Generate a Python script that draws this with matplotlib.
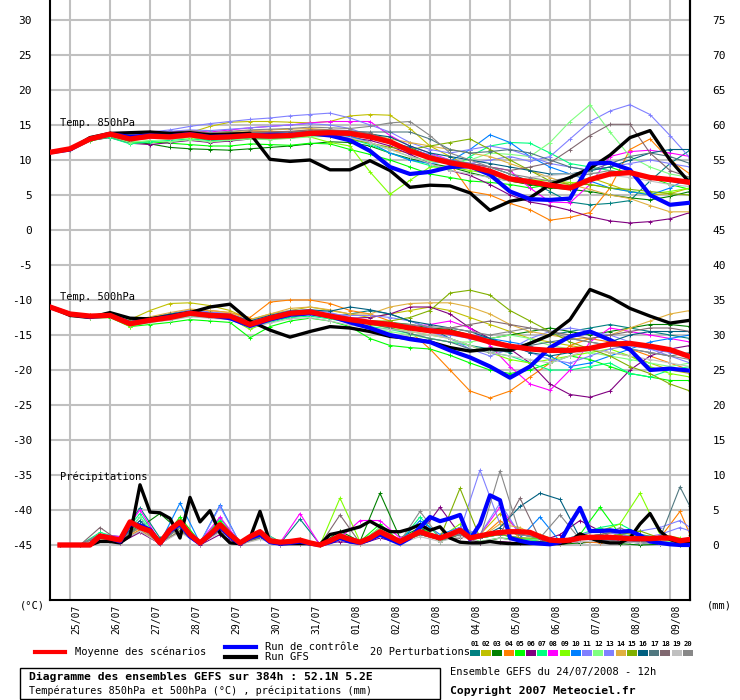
import matplotlib
matplotlib.use('Agg')
import matplotlib.pyplot as plt
from matplotlib.lines import Line2D
from matplotlib.patches import Rectangle
from matplotlib.transforms import ScaledTranslation
import numpy as np

plt.rcParams['font.family'] = ['DejaVu Sans Mono', 'DejaVu Sans']
plt.rcParams['axes.unicode_minus'] = False

# ---------------- data ----------------
T_HOURS = list(range(0, 385, 12))                 # temperature valid times (h)
P_MAIN_HOURS = list(range(6, 385, 6))             # precip, mean/control/GFS
P_PERT_HOURS = list(range(6, 379, 12)) + [384]    # precip, perturbations

DATE_HOURS = list(range(12, 373, 24))
DATE_LABELS = ['25/07', '26/07', '27/07', '28/07', '29/07', '30/07', '31/07', '01/08',
               '02/08', '03/08', '04/08', '05/08', '06/08', '07/08', '08/08', '09/08']
LEFT_TICKS = list(range(-45, 31, 5))
RIGHT_TICKS = list(range(0, 76, 5))
PRECIP_OFFSET = 45   # precip 0 mm sits on -45 of the temperature scale

PERT_COLORS = ['#008080', '#c0c000', '#008000', '#ff8000', '#00ff00', '#800080', '#00ff80',
               '#ff00ff', '#80ff00', '#0080ff', '#8080ff', '#80ff80', '#8080ff', '#e0b040',
               '#80b000', '#006080', '#507880', '#806870', '#c0c0c0', '#888888']

mean_850 = [11.1, 11.6, 13.0, 13.7, 13.0, 13.4, 13.3, 13.6, 13.2, 13.3, 13.5, 13.4, 13.5, 13.8, 13.9, 13.8,
            13.3, 12.6, 11.3, 10.3, 9.6, 9.1, 8.4, 7.3, 6.9, 6.4, 6.0, 7.2, 8.0, 8.2, 7.5, 7.2, 6.8]
ctrl_850 = [11.1, 11.5, 13.0, 13.7, 13.3, 13.5, 13.4, 13.7, 13.3, 13.4, 13.5, 13.6, 13.6, 13.8, 13.5, 12.8,
            11.3, 9.0, 8.0, 8.3, 9.0, 9.1, 7.9, 5.5, 4.4, 4.3, 4.5, 9.5, 9.6, 8.6, 5.0, 3.6, 3.9]
gfs_850 = [11.1, 11.5, 13.2, 13.8, 13.9, 14.0, 13.8, 13.9, 13.6, 13.7, 13.8, 10.1, 9.8, 10.0, 8.6, 8.6,
           9.9, 8.5, 6.1, 6.4, 6.3, 5.3, 2.8, 4.1, 4.6, 6.5, 7.5, 8.8, 10.7, 13.2, 14.2, 10.0, 6.7]

p850_01 = [11.1, 11.6, 13.0, 13.6, 13.0, 13.2, 13.0, 13.3, 12.8, 13.0, 13.4, 13.2, 13.1, 13.5, 13.6, 13.4, 13.2, 12.6, 11.8, 10.6, 9.8, 9.5, 9.0, 8.0, 7.0, 5.5, 4.0, 3.6, 3.8, 4.2, 7.0, 9.5, 11.4]
p850_02 = [11.1, 11.5, 13.1, 13.8, 13.4, 13.8, 13.7, 13.9, 14.8, 15.4, 15.5, 15.5, 15.4, 15.3, 15.5, 16.3, 16.5, 16.4, 14.5, 12.0, 10.5, 9.0, 8.0, 7.0, 6.5, 6.0, 6.5, 7.5, 6.5, 5.5, 5.0, 5.2, 6.0]
p850_03 = [11.1, 11.5, 12.8, 13.4, 12.6, 12.3, 11.8, 11.6, 11.5, 11.4, 11.6, 11.8, 12.0, 12.3, 12.6, 12.5, 12.0, 11.0, 10.2, 9.5, 9.0, 8.2, 7.5, 7.0, 6.5, 6.0, 5.8, 5.5, 5.0, 4.6, 4.3, 4.8, 5.5]
p850_04 = [11.1, 11.6, 13.1, 13.9, 13.4, 13.6, 13.8, 13.9, 13.7, 13.9, 14.0, 14.1, 14.0, 14.3, 14.0, 13.5, 12.5, 11.5, 11.0, 10.8, 9.5, 5.5, 5.0, 3.8, 2.9, 1.4, 1.8, 2.5, 6.0, 11.5, 13.0, 10.0, 8.0]
p850_05 = [11.1, 11.4, 12.7, 13.3, 12.5, 12.6, 12.4, 12.2, 12.0, 12.0, 12.3, 12.2, 12.1, 12.4, 12.3, 11.5, 10.8, 10.0, 9.0, 8.0, 7.5, 7.0, 6.8, 6.5, 6.0, 6.5, 7.5, 8.5, 9.0, 8.0, 7.5, 6.5, 5.8]
p850_06 = [11.1, 11.5, 12.8, 13.2, 12.4, 12.2, 12.5, 12.8, 12.5, 12.7, 13.0, 13.2, 13.4, 13.6, 13.4, 13.2, 12.8, 12.0, 10.8, 9.5, 8.5, 7.8, 6.5, 5.0, 4.0, 3.5, 2.8, 1.9, 1.3, 1.0, 1.2, 1.6, 2.5]
p850_07 = [11.1, 11.6, 12.9, 13.2, 12.3, 12.6, 12.8, 13.0, 12.8, 12.9, 13.1, 13.0, 13.2, 13.4, 13.6, 13.0, 12.2, 11.0, 10.0, 9.2, 8.6, 10.5, 12.0, 12.5, 12.4, 11.0, 9.5, 9.0, 8.5, 8.0, 7.5, 7.2, 7.0]
p850_08 = [11.1, 11.6, 13.0, 13.8, 13.3, 13.8, 14.0, 14.2, 14.0, 14.3, 14.6, 14.8, 15.0, 15.3, 15.5, 15.5, 15.5, 13.5, 12.0, 11.0, 10.0, 9.5, 9.0, 8.5, 6.0, 4.0, 3.9, 6.5, 10.5, 11.2, 11.4, 11.0, 10.5]
p850_09 = [11.1, 11.5, 12.9, 13.5, 12.8, 13.1, 13.0, 13.2, 13.0, 13.2, 13.4, 13.5, 13.6, 13.3, 12.5, 12.0, 8.3, 5.1, 7.1, 9.0, 9.0, 8.5, 8.0, 7.5, 7.2, 7.0, 6.8, 6.5, 6.0, 5.5, 5.2, 5.5, 6.0]
p850_10 = [11.1, 11.6, 13.0, 13.7, 13.1, 13.5, 13.4, 13.7, 13.4, 13.5, 13.7, 13.6, 13.6, 13.8, 13.8, 13.4, 12.5, 11.0, 10.0, 9.5, 9.8, 11.5, 13.6, 12.5, 10.5, 9.0, 8.0, 7.0, 6.0, 5.5, 5.0, 6.0, 7.5]
p850_11 = [11.1, 11.6, 13.1, 13.8, 13.4, 13.8, 14.1, 14.3, 14.2, 14.4, 14.6, 14.8, 15.0, 15.2, 15.0, 14.5, 13.5, 12.5, 11.5, 10.8, 10.0, 9.5, 10.0, 10.5, 9.8, 10.5, 13.0, 15.5, 17.0, 17.9, 16.5, 13.5, 10.3]
p850_12 = [11.1, 11.5, 12.8, 13.4, 12.5, 12.8, 12.6, 12.9, 12.6, 12.8, 13.0, 12.9, 13.1, 13.3, 13.4, 13.0, 12.4, 11.5, 10.5, 9.8, 9.5, 10.0, 11.0, 10.8, 10.5, 12.5, 15.5, 17.9, 14.0, 10.5, 9.0, 8.0, 7.5]
p850_13 = [11.1, 11.6, 13.1, 13.9, 13.6, 14.0, 14.3, 14.8, 15.2, 15.5, 15.8, 16.0, 16.3, 16.5, 16.7, 16.0, 15.0, 14.0, 12.5, 11.5, 11.0, 11.5, 12.0, 11.5, 10.5, 9.5, 9.0, 8.5, 9.0, 9.5, 10.0, 9.5, 9.0]
p850_14 = [11.1, 11.6, 13.1, 13.7, 13.3, 13.6, 13.8, 14.0, 13.8, 14.0, 14.2, 14.3, 14.4, 14.5, 14.3, 14.0, 13.8, 13.0, 12.5, 12.0, 11.5, 11.0, 10.5, 9.5, 8.5, 7.5, 6.5, 5.8, 5.0, 4.5, 3.5, 2.6, 2.6]
p850_15 = [11.1, 11.5, 12.9, 13.5, 12.9, 13.2, 13.2, 13.4, 13.1, 13.2, 13.3, 13.2, 13.3, 13.6, 13.5, 13.0, 12.4, 11.8, 11.5, 12.0, 12.5, 13.0, 11.5, 10.0, 8.5, 7.0, 6.5, 6.5, 6.0, 5.8, 5.5, 5.2, 5.0]
p850_16 = [11.1, 11.5, 12.9, 13.6, 13.2, 13.4, 13.3, 13.5, 13.2, 13.4, 13.6, 13.5, 13.7, 13.9, 14.0, 13.8, 13.7, 13.3, 12.0, 11.0, 10.5, 10.0, 9.5, 9.0, 8.5, 8.0, 8.0, 8.5, 9.0, 10.0, 11.0, 11.5, 11.5]
p850_17 = [11.1, 11.6, 13.0, 13.7, 13.2, 13.6, 13.5, 13.8, 13.5, 13.7, 13.9, 13.9, 14.0, 14.1, 14.2, 14.1, 14.0, 14.0, 14.0, 13.0, 11.5, 11.0, 11.2, 11.5, 11.0, 10.0, 9.0, 8.5, 9.5, 10.5, 11.0, 10.5, 9.5]
p850_18 = [11.1, 11.6, 13.0, 13.8, 13.3, 13.7, 13.6, 13.9, 13.6, 13.8, 14.0, 14.0, 14.1, 14.3, 14.3, 14.2, 13.8, 12.8, 11.5, 10.5, 10.0, 9.5, 9.0, 8.5, 9.0, 9.6, 11.5, 13.5, 15.1, 15.1, 11.0, 8.5, 7.5]
p850_19 = [11.1, 11.5, 12.9, 13.5, 12.8, 13.1, 13.0, 13.3, 13.0, 13.1, 13.3, 13.2, 13.3, 13.6, 13.6, 13.2, 12.5, 11.5, 10.5, 9.5, 8.5, 8.0, 7.5, 7.0, 7.5, 7.8, 8.0, 8.2, 7.8, 7.5, 7.0, 6.5, 6.2]
p850_20 = [11.1, 11.6, 13.1, 13.9, 13.6, 14.0, 13.9, 14.2, 13.9, 14.1, 14.3, 14.4, 14.5, 14.7, 14.6, 14.5, 14.8, 15.3, 15.5, 13.5, 11.0, 10.0, 9.0, 8.0, 7.5, 7.0, 7.5, 8.0, 8.5, 8.0, 7.5, 7.0, 6.5]

mean_500 = [-11.0, -12.0, -12.3, -12.2, -13.4, -12.9, -12.5, -11.9, -12.2, -12.3, -13.5, -12.6, -11.9, -11.7, -12.3, -12.8,
            -13.2, -13.5, -14.0, -14.4, -14.6, -15.2, -16.0, -16.6, -17.0, -17.2, -17.2, -16.9, -16.3, -16.2, -16.6, -17.1, -18.1]
ctrl_500 = [-11.0, -12.0, -12.4, -12.2, -13.3, -12.9, -12.4, -11.9, -12.2, -12.6, -13.7, -12.8, -12.1, -11.9, -12.3, -13.2,
            -14.0, -15.0, -15.6, -16.0, -17.2, -18.2, -19.5, -21.1, -19.5, -16.8, -15.2, -14.5, -15.7, -17.1, -20.0, -19.8, -20.1]
gfs_500 = [-11.0, -12.2, -12.5, -11.8, -12.6, -12.7, -12.3, -11.8, -11.0, -10.6, -13.0, -14.3, -15.3, -14.5, -13.8, -14.0,
           -14.5, -15.2, -15.5, -16.0, -16.8, -17.3, -17.0, -17.2, -16.2, -15.0, -12.8, -8.5, -9.6, -11.2, -12.3, -13.3, -12.9]

p500_01 = [-11.0, -12.0, -12.3, -12.0, -13.0, -12.5, -12.0, -11.5, -11.8, -12.0, -13.0, -12.8, -12.5, -12.0, -12.5, -12.0, -11.5, -12.0, -13.0, -14.0, -15.5, -16.5, -17.0, -17.5, -16.0, -15.0, -14.5, -14.0, -13.5, -14.0, -14.5, -15.0, -15.5]
p500_02 = [-11.0, -12.0, -12.2, -11.8, -12.8, -11.5, -10.5, -10.4, -10.8, -11.5, -12.8, -12.0, -11.5, -11.0, -11.5, -12.0, -12.5, -12.0, -11.5, -11.0, -11.5, -12.5, -13.5, -14.5, -15.5, -16.0, -16.5, -17.0, -17.5, -18.0, -19.0, -20.0, -20.5]
p500_03 = [-11.0, -12.1, -12.5, -12.4, -13.6, -13.0, -12.8, -12.2, -12.5, -12.7, -13.8, -13.0, -12.3, -12.0, -12.4, -12.8, -13.0, -13.2, -13.5, -14.0, -14.2, -15.0, -15.5, -15.0, -14.5, -14.0, -14.5, -15.0, -14.5, -14.0, -13.5, -13.5, -13.8]
p500_04 = [-11.0, -12.0, -12.2, -12.0, -13.2, -12.6, -12.0, -11.5, -11.5, -11.8, -12.5, -10.3, -10.0, -10.0, -10.5, -11.5, -12.0, -13.0, -14.5, -17.0, -20.0, -23.0, -24.0, -23.0, -21.0, -19.0, -16.5, -15.5, -16.0, -17.0, -18.0, -19.0, -20.0]
p500_05 = [-11.0, -12.1, -12.6, -12.5, -13.8, -13.5, -13.2, -12.8, -13.0, -13.2, -15.4, -13.8, -13.0, -12.6, -13.0, -13.8, -15.5, -16.5, -16.8, -17.0, -17.9, -19.0, -20.0, -20.5, -20.0, -19.0, -18.0, -18.5, -19.5, -20.5, -21.0, -21.5, -21.5]
p500_06 = [-11.0, -12.0, -12.4, -12.3, -13.6, -13.0, -12.6, -12.0, -12.4, -12.6, -13.5, -12.8, -12.2, -12.0, -12.3, -12.6, -12.5, -12.0, -11.0, -11.0, -12.0, -14.0, -15.5, -17.0, -19.0, -22.0, -23.5, -23.9, -23.0, -20.0, -18.0, -17.0, -16.5]
p500_07 = [-11.0, -12.1, -12.5, -12.4, -13.7, -13.2, -12.8, -12.3, -12.5, -12.7, -14.0, -13.2, -12.5, -12.3, -12.7, -13.2, -13.8, -14.2, -14.8, -15.5, -16.0, -16.5, -17.5, -18.0, -19.0, -20.0, -20.0, -19.5, -19.0, -20.5, -21.0, -20.0, -19.5]
p500_08 = [-11.0, -12.0, -12.3, -12.1, -13.3, -12.7, -12.2, -11.8, -12.0, -12.2, -13.2, -12.5, -11.8, -11.6, -12.0, -12.5, -13.0, -13.5, -13.8, -13.5, -13.0, -14.0, -16.5, -19.5, -22.0, -22.9, -20.0, -16.0, -14.0, -14.5, -15.0, -15.5, -16.0]
p500_09 = [-11.0, -12.1, -12.5, -12.4, -13.8, -13.0, -12.7, -12.1, -12.4, -12.6, -14.2, -13.0, -12.2, -12.0, -12.5, -13.0, -13.5, -14.0, -14.5, -15.0, -15.5, -16.5, -17.5, -18.5, -19.0, -18.5, -18.0, -17.5, -17.0, -18.0, -19.5, -20.5, -21.0]
p500_10 = [-11.0, -12.0, -12.3, -12.2, -13.3, -12.8, -12.4, -11.9, -12.1, -12.3, -13.4, -12.6, -11.9, -11.7, -12.2, -12.8, -13.2, -13.6, -14.0, -14.0, -14.5, -15.0, -15.5, -16.0, -16.5, -18.0, -19.5, -19.0, -18.0, -17.0, -16.0, -15.5, -15.0]
p500_11 = [-11.0, -12.0, -12.3, -12.2, -13.4, -12.8, -12.2, -11.6, -11.8, -12.0, -13.0, -12.2, -11.5, -11.4, -11.8, -12.5, -13.0, -13.5, -14.0, -14.5, -15.5, -17.0, -18.0, -17.0, -15.5, -14.5, -14.0, -14.5, -15.0, -16.0, -17.0, -17.5, -18.0]
p500_12 = [-11.0, -12.1, -12.4, -12.3, -13.5, -13.1, -12.7, -12.2, -12.4, -12.6, -13.8, -13.0, -12.3, -12.0, -12.6, -13.2, -14.0, -14.5, -15.0, -15.5, -16.0, -16.0, -15.5, -15.0, -15.5, -16.5, -17.0, -17.5, -18.0, -18.5, -19.0, -19.5, -19.0]
p500_13 = [-11.0, -12.0, -12.3, -12.2, -13.3, -12.6, -12.0, -11.4, -11.7, -12.0, -13.0, -12.4, -11.8, -11.6, -12.0, -12.2, -12.2, -12.5, -13.0, -14.0, -15.0, -15.5, -16.0, -16.5, -17.5, -18.5, -19.0, -18.0, -17.0, -16.5, -17.0, -18.0, -19.0]
p500_14 = [-11.0, -12.0, -12.2, -12.0, -13.1, -12.4, -11.8, -11.3, -11.5, -11.8, -12.8, -12.0, -11.2, -11.0, -11.4, -12.0, -12.0, -11.0, -10.5, -10.4, -10.4, -11.0, -12.0, -13.5, -14.5, -15.0, -15.5, -15.5, -15.0, -14.0, -13.0, -12.0, -11.5]
p500_15 = [-11.0, -12.1, -12.4, -12.2, -13.4, -12.9, -12.5, -12.0, -12.3, -12.5, -13.6, -12.8, -12.0, -11.8, -12.3, -12.8, -13.0, -13.0, -12.5, -11.5, -9.0, -8.6, -9.3, -11.5, -13.0, -14.5, -16.0, -17.0, -18.0, -19.5, -20.5, -22.0, -23.0]
p500_16 = [-11.0, -12.0, -12.3, -12.1, -13.2, -12.6, -12.0, -11.6, -11.9, -12.1, -13.0, -12.2, -11.6, -11.4, -11.6, -11.0, -11.4, -12.0, -13.0, -13.5, -14.0, -14.5, -15.5, -16.5, -17.5, -18.0, -17.5, -17.0, -16.0, -15.0, -14.5, -14.5, -14.5]
p500_17 = [-11.0, -12.1, -12.4, -12.3, -13.5, -13.0, -12.6, -12.1, -12.4, -12.6, -13.7, -12.9, -12.1, -11.9, -12.4, -12.9, -13.4, -14.0, -14.8, -15.5, -16.0, -17.0, -17.5, -17.0, -16.5, -16.0, -15.5, -16.0, -16.5, -17.0, -17.5, -18.0, -17.5]
p500_18 = [-11.0, -12.0, -12.3, -12.2, -13.4, -12.8, -12.2, -11.7, -11.9, -12.1, -13.1, -12.4, -11.8, -11.6, -12.1, -12.6, -13.2, -13.8, -14.2, -14.5, -14.0, -13.5, -13.0, -13.5, -14.0, -14.5, -15.0, -15.5, -15.0, -14.5, -14.0, -14.0, -14.5]
p500_19 = [-11.0, -12.1, -12.5, -12.4, -13.6, -13.2, -12.9, -12.4, -12.6, -12.8, -13.9, -13.3, -12.7, -12.5, -13.0, -13.6, -14.0, -14.2, -14.5, -15.0, -15.5, -16.5, -17.5, -18.0, -18.5, -19.0, -18.0, -17.0, -17.5, -18.0, -18.5, -19.0, -19.5]
p500_20 = [-11.0, -12.0, -12.3, -12.2, -13.3, -12.7, -12.3, -11.8, -12.0, -12.2, -13.2, -12.5, -11.9, -11.7, -12.1, -12.6, -13.0, -13.3, -13.5, -13.8, -14.0, -14.5, -15.0, -14.5, -14.0, -14.5, -15.5, -16.0, -16.5, -17.0, -17.5, -18.0, -18.5]

mean_rr = [0, 0, 0, 0, 1.3, 1.0, 0.7, 3.3, 2.5, 2.0, 0.3, 2.2, 3.3, 1.5, 0.3, 1.5, 2.9, 1.5, 0.3, 1.2,
           1.9, 0.6, 0.4, 0.5, 0.7, 0.3, 0.0, 0.6, 1.3, 0.8, 0.4, 1.0, 1.9, 1.2, 0.5, 1.2, 1.9, 1.4, 1.0, 1.5,
           2.1, 1.0, 1.3, 1.6, 1.8, 1.9, 1.9, 1.8, 1.2, 0.7, 0.6, 0.7, 1.0, 1.1, 1.1, 1.1, 1.0, 0.9, 0.9, 0.9,
           1.0, 1.0, 0.6, 0.8]
ctrl_rr = [0, 0, 0, 0, 1.2, 1.0, 0.5, 3.0, 2.8, 2.2, 0.2, 2.0, 3.0, 1.2, 0.2, 1.4, 2.6, 1.2, 0.2, 1.0,
           1.5, 0.4, 0.2, 0.3, 0.5, 0.2, 0.0, 0.4, 1.0, 0.5, 0.3, 0.8, 1.5, 0.8, 0.2, 1.0, 2.5, 4.0, 3.4, 3.8,
           4.3, 0.8, 3.0, 7.1, 6.4, 1.0, 0.6, 0.3, 0.2, 0.1, 0.4, 3.0, 5.3, 2.0, 2.0, 2.1, 1.9, 2.0, 1.4, 0.5,
           0.3, 0.1, 0.0, 0.0]
gfs_rr = [0, 0, 0, 0, 0.5, 0.5, 0.3, 1.3, 8.6, 4.7, 4.6, 3.8, 1.0, 6.8, 3.3, 4.9, 1.7, 0.3, 0.2, 1.0,
          4.8, 0.4, 0.2, 0.2, 0.2, 0.2, 0.1, 1.5, 1.8, 2.2, 2.6, 3.4, 2.6, 1.9, 1.9, 2.3, 2.9, 2.1, 2.6, 1.0,
          0.4, 0.3, 0.3, 0.5, 0.3, 0.2, 0.2, 0.2, 0.3, 0.2, 0.2, 0.5, 1.6, 1.0, 0.5, 0.3, 0.3, 1.0, 3.0, 4.5,
          2.0, 0.8, 0.3, 0.2]

prr_01 = [0, 0, 1.5, 1.2, 5.3, 1.0, 2.5, 0.3, 3.0, 0.2, 1.5, 0.2, 3.7, 0.1, 1.0, 0.3, 2.0, 0.5, 1.5, 0.8, 2.5, 1.0, 1.5, 1.0, 0.8, 0.5, 0.3, 0.5, 1.0, 0.3, 0.5, 0.2, 0.1]
prr_02 = [0, 0, 1.0, 0.5, 2.0, 0.2, 3.0, 0.2, 2.5, 0.2, 1.0, 0.3, 0.5, 0.0, 1.0, 0.2, 2.5, 0.3, 1.5, 1.0, 2.0, 1.5, 4.5, 2.0, 1.5, 0.5, 1.0, 2.5, 1.2, 1.0, 0.5, 0.8, 1.0]
prr_03 = [0, 0, 1.2, 0.8, 2.5, 4.5, 2.0, 0.5, 3.0, 0.3, 2.0, 0.1, 0.5, 0.0, 2.0, 0.5, 7.4, 1.0, 2.5, 0.5, 1.5, 0.3, 1.0, 0.6, 0.5, 0.1, 0.3, 0.5, 0.2, 0.0, 0.1, 0.0, 0.0]
prr_04 = [0, 0, 1.0, 0.5, 2.2, 0.2, 2.8, 0.1, 2.2, 0.1, 1.5, 0.2, 0.3, 0.0, 0.8, 0.2, 1.5, 0.2, 1.5, 0.8, 1.5, 1.0, 3.5, 1.0, 0.5, 0.2, 0.5, 0.3, 0.5, 0.8, 1.0, 4.8, 1.5]
prr_05 = [0, 0, 1.5, 1.0, 3.0, 0.3, 4.0, 0.4, 3.5, 0.2, 2.0, 0.5, 0.8, 0.1, 1.5, 0.5, 3.0, 0.5, 2.5, 1.0, 1.5, 0.5, 1.0, 0.8, 1.0, 0.5, 1.5, 5.4, 1.5, 1.2, 1.0, 0.5, 0.3]
prr_06 = [0, 0, 0.8, 0.3, 1.8, 0.2, 2.0, 0.0, 1.5, 0.0, 1.2, 0.0, 0.2, 0.0, 0.5, 0.1, 1.0, 0.3, 1.5, 5.4, 1.5, 0.3, 0.5, 0.3, 0.5, 1.5, 3.5, 2.0, 0.5, 0.3, 0.2, 0.2, 0.3]
prr_07 = [0, 0, 1.8, 1.0, 4.5, 0.5, 3.5, 0.3, 3.8, 0.3, 2.0, 0.3, 0.5, 0.0, 1.5, 0.3, 2.5, 0.5, 4.0, 1.0, 2.5, 1.0, 1.5, 1.0, 0.5, 0.3, 1.5, 2.5, 3.0, 1.5, 1.0, 0.5, 0.5]
prr_08 = [0, 0, 1.5, 1.2, 5.0, 0.5, 3.0, 0.5, 4.0, 0.3, 1.5, 0.3, 4.5, 0.0, 1.0, 3.5, 3.5, 1.0, 2.0, 1.0, 2.0, 1.5, 5.4, 1.5, 1.0, 0.3, 0.5, 0.5, 0.8, 0.5, 0.5, 0.3, 0.2]
prr_09 = [0, 0, 1.0, 0.5, 3.0, 0.3, 2.0, 0.3, 2.5, 0.1, 1.0, 0.2, 0.5, 0.0, 6.7, 0.5, 1.5, 0.5, 2.0, 1.0, 3.0, 1.0, 2.0, 1.5, 1.0, 0.5, 1.5, 2.0, 3.0, 7.4, 1.5, 1.0, 0.5]
prr_10 = [0, 0, 1.2, 0.8, 4.0, 0.3, 6.0, 0.3, 5.7, 0.2, 1.5, 0.3, 0.6, 0.0, 1.0, 0.3, 2.0, 0.5, 3.5, 1.5, 2.5, 1.0, 1.5, 1.0, 4.0, 0.5, 1.0, 1.5, 0.8, 0.5, 0.3, 0.3, 0.2]
prr_11 = [0, 0, 1.3, 0.8, 3.5, 0.5, 3.0, 0.3, 5.5, 0.2, 2.0, 0.4, 0.5, 0.0, 1.5, 0.5, 2.0, 0.5, 2.0, 1.0, 2.0, 10.7, 3.0, 1.5, 1.0, 0.5, 1.5, 2.0, 1.5, 1.0, 1.5, 2.5, 2.0]
prr_12 = [0, 0, 1.0, 0.6, 4.0, 0.5, 3.0, 0.4, 3.0, 0.2, 1.8, 0.3, 0.5, 0.0, 1.5, 0.3, 2.5, 0.3, 1.5, 0.8, 2.0, 1.0, 1.5, 1.0, 0.8, 0.5, 1.0, 1.5, 1.0, 0.8, 0.6, 0.4, 0.3]
prr_13 = [0, 0, 1.1, 0.7, 3.0, 0.4, 2.5, 0.3, 3.0, 0.2, 1.5, 0.3, 0.5, 0.0, 1.2, 0.5, 2.0, 0.8, 1.8, 1.2, 2.5, 1.5, 6.0, 1.5, 1.0, 0.5, 1.5, 2.0, 1.5, 2.0, 2.5, 3.5, 2.5]
prr_14 = [0, 0, 0.8, 0.5, 2.5, 0.2, 2.0, 0.2, 2.0, 0.1, 1.0, 0.2, 0.3, 0.0, 0.8, 0.2, 1.5, 0.3, 1.5, 0.8, 1.5, 1.0, 3.0, 2.5, 1.0, 0.5, 1.0, 1.5, 2.0, 1.0, 0.8, 0.5, 0.4]
prr_15 = [0, 0, 1.0, 0.5, 3.0, 0.3, 3.5, 0.2, 2.5, 0.2, 1.5, 0.3, 0.5, 0.0, 1.0, 0.3, 2.0, 0.4, 1.5, 1.0, 8.1, 1.0, 1.5, 1.0, 1.0, 0.3, 0.8, 1.0, 1.5, 2.0, 1.0, 0.5, 0.3]
prr_16 = [0, 0, 1.2, 0.7, 3.5, 0.4, 2.5, 0.3, 2.5, 0.2, 1.5, 0.3, 0.5, 0.0, 1.0, 0.3, 1.5, 0.4, 2.0, 1.0, 1.5, 1.0, 2.5, 5.5, 7.4, 6.5, 1.0, 0.8, 0.5, 0.3, 0.2, 0.1, 0.1]
prr_17 = [0, 0, 1.5, 0.8, 2.8, 0.4, 2.5, 0.3, 2.5, 0.2, 1.0, 0.2, 0.4, 0.0, 1.0, 0.3, 1.5, 0.5, 1.5, 0.8, 1.5, 1.0, 2.0, 1.5, 1.0, 0.5, 1.0, 1.5, 2.0, 1.5, 1.0, 8.3, 5.5]
prr_18 = [0, 0, 2.5, 0.5, 2.0, 0.2, 2.0, 0.2, 2.0, 0.1, 1.2, 0.2, 0.4, 0.0, 4.3, 0.3, 1.5, 0.3, 1.5, 0.8, 1.0, 1.5, 1.5, 6.7, 0.8, 0.3, 0.5, 0.5, 0.8, 0.5, 0.3, 0.2, 0.1]
prr_19 = [0, 0, 1.0, 0.5, 2.0, 0.2, 1.8, 0.1, 1.8, 0.1, 0.8, 0.1, 0.3, 0.0, 0.8, 0.2, 1.2, 0.2, 1.2, 0.5, 1.2, 0.5, 1.0, 0.5, 0.5, 0.2, 0.5, 0.5, 0.5, 0.3, 0.2, 0.1, 0.1]
prr_20 = [0, 0, 1.5, 0.8, 2.5, 0.3, 2.5, 0.3, 2.5, 0.2, 1.5, 0.3, 0.5, 0.0, 1.5, 0.3, 2.0, 0.5, 4.8, 1.0, 1.5, 1.0, 10.6, 1.5, 1.0, 4.3, 0.8, 1.0, 2.5, 1.0, 0.8, 0.5, 0.3]

PERT_850 = [p850_01, p850_02, p850_03, p850_04, p850_05, p850_06, p850_07, p850_08, p850_09, p850_10,
            p850_11, p850_12, p850_13, p850_14, p850_15, p850_16, p850_17, p850_18, p850_19, p850_20]
PERT_500 = [p500_01, p500_02, p500_03, p500_04, p500_05, p500_06, p500_07, p500_08, p500_09, p500_10,
            p500_11, p500_12, p500_13, p500_14, p500_15, p500_16, p500_17, p500_18, p500_19, p500_20]
PERT_RR = [prr_01, prr_02, prr_03, prr_04, prr_05, prr_06, prr_07, prr_08, prr_09, prr_10,
           prr_11, prr_12, prr_13, prr_14, prr_15, prr_16, prr_17, prr_18, prr_19, prr_20]

# ---------------- figure ----------------
W, H = 740, 700
fig = plt.figure(figsize=(W / 100, H / 100), dpi=100)
fig.patch.set_facecolor('white')


def fx(x):
    return x / W


def fy(y):
    return 1 - y / H


ax = fig.add_axes([fx(50), fy(600), 640 / W, 600 / H])
ax.set_xlim(0, 384)
ax.set_ylim(30 - 580 / 7, 30 + 20 / 7)

GRID = '#c0c0c0'
for h in DATE_HOURS:
    ax.axvline(h, color=GRID, lw=1.5, zorder=0)
for v in LEFT_TICKS:
    ax.axhline(v, color=GRID, lw=1.5, zorder=0)

pkw = dict(lw=0.8, marker='+', ms=3.2, mew=0.7, zorder=2)
for c, s850, s500, srr in zip(PERT_COLORS, PERT_850, PERT_500, PERT_RR):
    ax.plot(T_HOURS, s850, color=c, **pkw)
    ax.plot(T_HOURS, s500, color=c, **pkw)
    ax.plot(P_PERT_HOURS, np.array(srr) - PRECIP_OFFSET, color=c, **pkw)

for hrs, vals in [(T_HOURS, gfs_850), (T_HOURS, gfs_500), (P_MAIN_HOURS, np.array(gfs_rr) - PRECIP_OFFSET)]:
    ax.plot(hrs, vals, color='black', lw=2.4, zorder=3, solid_joinstyle='round')
for hrs, vals in [(T_HOURS, ctrl_850), (T_HOURS, ctrl_500), (P_MAIN_HOURS, np.array(ctrl_rr) - PRECIP_OFFSET)]:
    ax.plot(hrs, vals, color='#0000ff', lw=3.0, zorder=4, solid_joinstyle='round')
for hrs, vals in [(T_HOURS, mean_850), (T_HOURS, mean_500), (P_MAIN_HOURS, np.array(mean_rr) - PRECIP_OFFSET)]:
    ax.plot(hrs, vals, color='#ff0000', lw=3.8, zorder=5, solid_joinstyle='round')

for side in ['left', 'right', 'bottom']:
    ax.spines[side].set_linewidth(1.5)
    ax.spines[side].set_color('black')
ax.spines['top'].set_visible(False)

ax.set_yticks(LEFT_TICKS)
ax.tick_params(axis='y', length=0, pad=13, labelsize=8)
ax.set_xticks(DATE_HOURS)
ax.set_xticklabels(DATE_LABELS, rotation=90, va='top', ha='center')
ax.tick_params(axis='x', length=0, pad=3, labelsize=7)
for lbl in ax.get_xticklabels():
    lbl.set_transform(lbl.get_transform() + ScaledTranslation(6 / 100, 0, fig.dpi_scale_trans))

sec = ax.secondary_yaxis('right', functions=(lambda v: v + PRECIP_OFFSET, lambda v: v - PRECIP_OFFSET))
sec.set_yticks(RIGHT_TICKS)
sec.tick_params(length=0, pad=16, labelsize=8)
sec.spines['right'].set_linewidth(1.5)

# panel titles
tkw = dict(fontsize=7.5, ha='left', va='center', color='black')
fig.text(fx(60), fy(123), 'Temp. 850hPa', **tkw)
fig.text(fx(60), fy(297), 'Temp. 500hPa', **tkw)
fig.text(fx(60), fy(477), 'Précipitations', **tkw)
fig.text(fx(20), fy(606), '(°C)', **tkw)
fig.text(fx(707), fy(606), '(mm)', **tkw)

# legend
fig.add_artist(Line2D([fx(35), fx(65)], [fy(652), fy(652)], color='#ff0000', lw=3, transform=fig.transFigure))
fig.text(fx(75), fy(652), 'Moyenne des scénarios', **tkw)
fig.add_artist(Line2D([fx(225), fx(256)], [fy(647), fy(647)], color='#0000ff', lw=3, transform=fig.transFigure))
fig.add_artist(Line2D([fx(225), fx(256)], [fy(657), fy(657)], color='black', lw=3, transform=fig.transFigure))
fig.text(fx(265), fy(647), 'Run de contrôle', **tkw)
fig.text(fx(265), fy(657), 'Run GFS', **tkw)
fig.text(fx(370), fy(652), '20 Perturbations', **tkw)
for i, c in enumerate(PERT_COLORS):
    left = 470 + i * 11.2
    fig.add_artist(Rectangle((fx(left), fy(655.5)), 10 / W, 5.5 / H, facecolor=c, edgecolor='none',
                             transform=fig.transFigure))
    fig.text(fx(left + 5), fy(644), f'{i + 1:02d}', fontsize=5.2, ha='center', va='center',
             fontweight='bold')

# info box
fig.add_artist(Rectangle((fx(20), fy(699)), 420 / W, 31 / H, facecolor='none', edgecolor='black', lw=1,
                         transform=fig.transFigure))
fig.text(fx(29), fy(677), 'Diagramme des ensembles GEFS sur 384h : 52.1N 5.2E', fontsize=8.2,
         fontweight='bold', ha='left', va='center')
fig.text(fx(29), fy(691), 'Températures 850hPa et 500hPa (°C) , précipitations (mm)', fontsize=7.3,
         ha='left', va='center')
fig.text(fx(450), fy(672), 'Ensemble GEFS du 24/07/2008 - 12h', fontsize=7.5, ha='left', va='center')
fig.text(fx(450), fy(691), 'Copyright 2007 Meteociel.fr', fontsize=8.2, fontweight='bold', ha='left',
         va='center')

fig.savefig('out.png', dpi=100, facecolor='white')
